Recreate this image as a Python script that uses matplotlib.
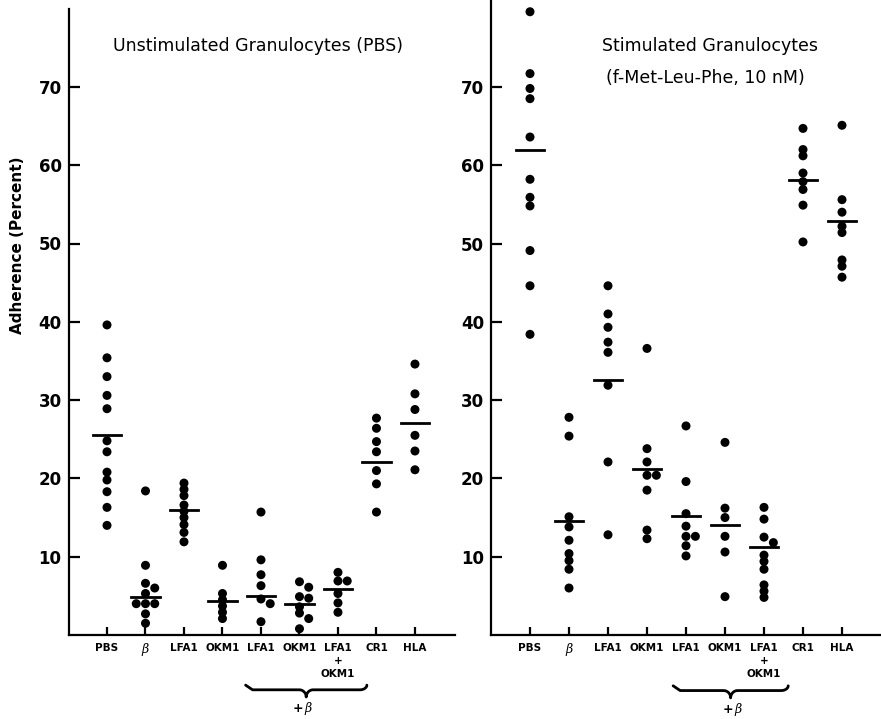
import numpy as np
import matplotlib
matplotlib.use('Agg')
from matplotlib import pyplot as plt
from matplotlib import transforms

groups = ['PBS', 'β', 'LFA1', 'OKM1', 'LFA1', 'OKM1', 'LFA1\n+\nOKM1', 'CR1', 'HLA']

# unstimulated granulocytes (PBS), percent adherence
unstim = [
    [39.6, 35.4, 33.0, 30.6, 28.9, 24.8, 23.4, 20.8, 19.8, 18.3, 16.3, 14.0],
    [18.4, 8.9, 6.6, 6.0, 5.3, 4.0, 4.0, 4.0, 2.7, 1.5],
    [19.4, 18.6, 17.8, 16.6, 15.8, 15.0, 14.1, 13.1, 11.9],
    [8.9, 5.3, 4.5, 3.7, 2.9, 2.1],
    [15.7, 9.6, 7.7, 6.3, 4.6, 4.0, 1.7],
    [6.8, 6.1, 4.9, 4.7, 3.6, 2.8, 2.1, 0.8],
    [8.0, 6.9, 6.9, 5.3, 4.1, 2.9],
    [27.7, 26.4, 24.7, 23.4, 21.0, 19.3, 15.7],
    [34.6, 30.8, 28.8, 25.5, 23.5, 21.1],
]
unstim_lines = [25.6, 4.8, 16.0, 4.4, 5.0, 4.0, 5.9, 22.1, 27.1]

# stimulated granulocytes (f-Met-Leu-Phe, 10 nM)
stim = [
    [79.6, 71.7, 69.8, 68.5, 63.6, 58.2, 55.9, 54.8, 49.1, 44.6, 38.4],
    [27.8, 25.4, 15.1, 13.8, 12.1, 10.4, 9.5, 8.4, 6.0],
    [44.6, 41.0, 39.3, 37.4, 36.1, 31.9, 22.1, 12.8],
    [36.6, 23.8, 22.1, 20.4, 20.4, 18.5, 13.4, 12.3],
    [26.7, 19.6, 15.5, 13.9, 12.6, 12.6, 11.4, 10.1],
    [24.6, 16.2, 15.0, 12.6, 10.6, 4.9],
    [16.3, 14.8, 12.5, 11.8, 10.2, 9.4, 8.4, 6.4, 5.6, 4.8],
    [64.7, 62.0, 61.2, 59.0, 57.9, 56.9, 54.9, 50.2],
    [65.1, 55.6, 54.0, 52.2, 51.4, 47.9, 47.1, 45.7],
]
stim_lines = [62.0, 14.5, 32.6, 21.2, 15.2, 14.0, 11.2, 58.1, 52.9]

PX_X = 38.5   # pixels per x unit
PX_Y = 7.83   # pixels per percent


def swarm(vals, step=0.24, d=5.6):
    # greedy side-by-side placement of dots that would overlap
    placed = []
    offs = []
    for v in vals:
        for k in [0, 1, -1, 2, -2]:
            ok = True
            for px, py in placed:
                if ((k * step - px) * PX_X) ** 2 + ((v - py) * PX_Y) ** 2 < d ** 2:
                    ok = False
                    break
            if ok:
                break
        placed.append((k * step, v))
        offs.append(k * step)
    return offs


def brace(ax, x0, x1, y_top, y_bot):
    trans = transforms.blended_transform_factory(ax.transData, ax.transAxes)
    xm = (x0 + x1) / 2
    ymid = (y_top + y_bot) / 2 + 0.002
    r = 0.18
    t = np.linspace(0, np.pi / 2, 20)
    xs = list(x0 + r * (1 - np.cos(t)))
    ys = list(ymid + (y_top - ymid) * np.cos(t))
    xs += [xm - r]
    ys += [ymid]
    xs += list(xm - r + r * np.sin(t))
    ys += list(ymid - (ymid - y_bot) * (1 - np.cos(t)))
    xs += list(xm + r * (1 - np.cos(t)))
    ys += list(y_bot + (ymid - y_bot) * np.sin(t))
    xs += [x1 - r]
    ys += [ymid]
    xs += list(x1 - r + r * np.sin(t))
    ys += list(ymid + (y_top - ymid) * (1 - np.cos(t)))
    ax.plot(xs, ys, color='black', lw=2, transform=trans, clip_on=False,
            solid_capstyle='round')


def panel(ax, data, lines, ylim, xlim):
    x = np.arange(1, len(groups) + 1)
    for i in range(len(groups)):
        offs = swarm(data[i])
        ax.scatter(x[i] + np.array(offs), data[i], s=42, color='black',
                   edgecolors='none', zorder=3, clip_on=False)
        ax.plot([x[i] - 0.37, x[i] + 0.37], [lines[i], lines[i]],
                color='black', lw=2, zorder=2)
    ax.set_xlim(xlim)
    ax.set_ylim(ylim)
    ax.spines['top'].set_visible(False)
    ax.spines['right'].set_visible(False)
    ax.spines['left'].set_linewidth(1.6)
    ax.spines['bottom'].set_linewidth(1.6)
    ax.set_xticks(x)
    ax.set_xticklabels(groups, fontsize=7.5, fontweight='bold',
                       linespacing=1.35)
    ax.get_xticklabels()[1].set_fontstyle('italic')
    ax.get_xticklabels()[1].set_fontweight('normal')
    ax.get_xticklabels()[1].set_fontfamily('DejaVu Serif')
    ax.get_xticklabels()[1].set_fontsize(9)
    ax.set_yticks([10, 20, 30, 40, 50, 60, 70])
    ax.set_yticklabels(['10', '20', '30', '40', '50', '60', '70'],
                       fontsize=12, fontweight='bold')
    ax.tick_params(axis='y', direction='in', length=8, width=1.6, pad=5)
    ax.tick_params(axis='x', direction='in', length=6, width=1.6, pad=6)


def plus_beta(ax, xpos):
    trans = transforms.blended_transform_factory(ax.transData, ax.transAxes)
    ax.text(xpos - 0.13, -0.117, '+', transform=trans, ha='center', va='center',
            fontsize=9, fontweight='bold')
    ax.text(xpos + 0.13, -0.117, 'β', transform=trans, ha='center', va='center',
            fontsize=9, fontstyle='italic', family='DejaVu Serif')


def main():
    fig = plt.figure(figsize=(8.81, 7.19), dpi=100)
    W, H = 881.0, 719.0

    ax1 = fig.add_axes([68.5 / W, 1 - 635 / H, (455 - 68.5) / W, 626.4 / H])
    panel(ax1, unstim, unstim_lines, (0, 80), (0, 10.04))
    ax1.text(0.49, 0.941, 'Unstimulated Granulocytes (PBS)', transform=ax1.transAxes,
             ha='center', va='center', fontsize=12.5)
    brace(ax1, 4.6, 7.75, -0.08, -0.099)
    plus_beta(ax1, 6.1)

    ax2 = fig.add_axes([491 / W, 1 - 635 / H, 390 / W, 635 / H])
    panel(ax2, stim, stim_lines, (0, 81.1), (0, 10.0))
    ax2.text(0.562, 0.927, 'Stimulated Granulocytes', transform=ax2.transAxes,
             ha='center', va='center', fontsize=12.5)
    ax2.text(0.55, 0.877, '(f-Met-Leu-Phe, 10 nM)', transform=ax2.transAxes,
             ha='center', va='center', fontsize=12.5)
    brace(ax2, 4.67, 7.62, -0.08, -0.099)
    plus_beta(ax2, 6.2)

    fig.text(18 / W, 1 - 245 / H, 'Adherence (Percent)', rotation=90,
             ha='center', va='center', fontsize=11, fontweight='bold')

    fig.savefig('out.png', dpi=100, facecolor='white')


main()
